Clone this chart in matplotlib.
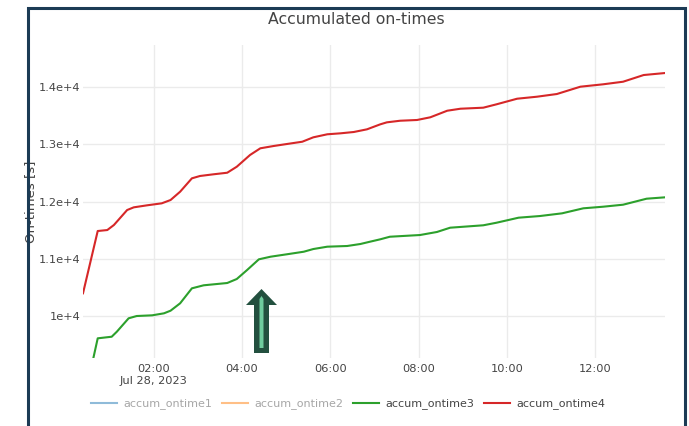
import matplotlib
matplotlib.use("Agg")
import matplotlib.pyplot as plt
import matplotlib.dates as mdates
from matplotlib.lines import Line2D
from matplotlib.patches import Rectangle, Polygon
from datetime import datetime

DATE = "2023-07-28"

red_times = ["00:24", "00:44", "00:57", "01:06", "01:24", "01:33", "01:51", "02:11",
             "02:23", "02:36", "02:52", "03:03", "03:21", "03:40", "03:53", "04:11",
             "04:25", "04:43", "05:01", "05:22", "05:37", "05:56", "06:14", "06:32",
             "06:50", "07:08", "07:17", "07:35", "07:58", "08:16", "08:39", "08:57",
             "09:28", "09:46", "10:14", "10:41", "11:08", "11:40", "12:11", "12:38",
             "13:06", "13:35"]
red_values = [10397, 11486, 11503, 11591, 11853, 11900, 11935, 11970,
              12028, 12173, 12407, 12448, 12477, 12505, 12610, 12815,
              12932, 12972, 13007, 13047, 13124, 13177, 13194, 13217,
              13264, 13351, 13386, 13414, 13427, 13474, 13589, 13624,
              13642, 13701, 13799, 13834, 13881, 14009, 14051, 14096,
              14213, 14248]

green_times = ["00:24", "00:38", "00:44", "01:03", "01:10", "01:26", "01:37", "01:58",
               "02:14", "02:23", "02:36", "02:52", "03:08", "03:40", "03:53", "04:07",
               "04:23", "04:39", "05:01", "05:24", "05:37", "05:56", "06:23", "06:41",
               "06:54", "07:08", "07:21", "08:02", "08:25", "08:43", "09:28", "09:46",
               "10:16", "10:45", "11:15", "11:44", "12:11", "12:38", "13:10", "13:35"]
green_values = [8530, 9260, 9610, 9638, 9726, 9960, 10000, 10012,
                10047, 10093, 10222, 10484, 10537, 10577, 10647, 10804,
                10991, 11037, 11079, 11124, 11171, 11212, 11224, 11259,
                11299, 11341, 11386, 11416, 11469, 11544, 11586, 11631,
                11719, 11748, 11795, 11883, 11911, 11946, 12051, 12075]

series_names = ["accum_ontime1", "accum_ontime2", "accum_ontime3", "accum_ontime4"]
y_ticks = [10000, 11000, 12000, 13000, 14000]
y_tick_labels = ["1e+4", "1.1e+4", "1.2e+4", "1.3e+4", "1.4e+4"]
x_ticks = ["02:00", "04:00", "06:00", "08:00", "10:00", "12:00"]
x_tick_labels = ["02:00\nJul 28, 2023", "04:00", "06:00", "08:00", "10:00", "12:00"]


def to_dt(t):
    return datetime.strptime(f"{DATE} {t}", "%Y-%m-%d %H:%M")


rt = [to_dt(t) for t in red_times]
gt = [to_dt(t) for t in green_times]

plt.rcParams['font.family'] = ['DejaVu Sans']
TXT = "#444444"
GRID = "#ebebeb"

fig = plt.figure(figsize=(6.89, 4.26), dpi=100)
W, H = 689, 426
ax = fig.add_axes([83 / W, 1 - 358 / H, (665 - 83) / W, (358 - 45) / H])

ax.plot(gt, green_values, color="#2ca02c", lw=1.5, solid_joinstyle="round", zorder=3)
ax.plot(rt, red_values, color="#d62728", lw=1.5, solid_joinstyle="round", zorder=3)

ax.set_xlim(min(rt + gt), max(rt + gt))
ax.set_ylim(9266, 14738)

ax.set_yticks(y_ticks)
ax.set_yticklabels(y_tick_labels)
ax.set_xticks([to_dt(t) for t in x_ticks])
ax.set_xticklabels(x_tick_labels, linespacing=1.25)
ax.tick_params(axis="both", length=0, labelsize=8.2, colors=TXT)
ax.tick_params(axis="y", pad=2)
ax.tick_params(axis="x", pad=4)
ax.grid(True, color=GRID, lw=1)
ax.set_axisbelow(True)
for s in ax.spines.values():
    s.set_visible(False)

ax.set_ylabel("On-times [s]", fontsize=9.5, color=TXT, labelpad=4)
ax.yaxis.set_label_coords(37 / W - 83 / W, (358 - 201.5) / (358 - 45), transform=None)
ax.yaxis.label.set_transform(fig.transFigure)
ax.yaxis.label.set_position((37 / W, 1 - 201.5 / H))

fig.text(356 / W, 1 - 20 / H, "Accumulated on-times", ha="center", va="center",
         fontsize=11.3, color=TXT)

# legend
handles = [
    Line2D([], [], color="#8fbbd9", lw=1.5),
    Line2D([], [], color="#ffbf86", lw=1.5),
    Line2D([], [], color="#2ca02c", lw=1.5),
    Line2D([], [], color="#d62728", lw=1.5),
]
leg = fig.legend(handles, series_names, loc="center", bbox_to_anchor=(348 / W, 1 - 404 / H),
                 ncol=4, frameon=False, fontsize=8, handlelength=2.35, handletextpad=0.55,
                 columnspacing=0.9, borderaxespad=0, borderpad=0)
for i, t in enumerate(leg.get_texts()):
    t.set_color("#a6a6a6" if i < 2 else TXT)

# frame
fig.add_artist(Rectangle((27.5 / W, -0.05), (685 - 27.5) / W, 1.05 - 8 / H,
                         transform=fig.transFigure, fill=False, ec="#1c3b55", lw=2.2))

# arrow annotation
def px(x, y):
    return (x / W, 1 - y / H)

outer = [px(254, 353), px(254, 305), px(246, 305), px(261.5, 289), px(277, 305),
         px(269, 305), px(269, 353)]
fig.add_artist(Polygon(outer, closed=True, transform=fig.transFigure, fc="#23503f",
                       ec="none", zorder=10))
inner = [px(259.5, 348), px(259.5, 299), px(261.5, 296), px(263.5, 299), px(263.5, 348)]
fig.add_artist(Polygon(inner, closed=True, transform=fig.transFigure, fc="#6fcc9e",
                       ec="none", zorder=11))

fig.savefig("out.png", dpi=100)
